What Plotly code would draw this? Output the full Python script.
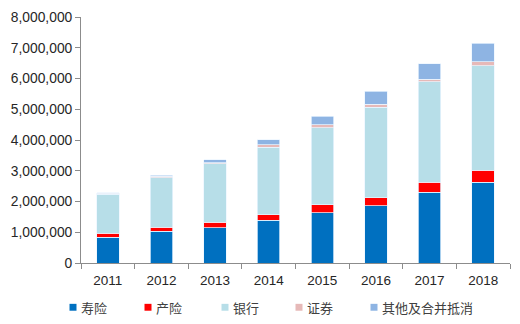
import plotly.graph_objects as go

years = ["2011", "2012", "2013", "2014", "2015", "2016", "2017", "2018"]
names = ["寿险", "产险", "银行", "证券", "其他及合并抵消"]
colors = ["#0070C0", "#FF0000", "#B7DEE8", "#E6B9B8", "#8EB4E3"]

life = [830000, 1040000, 1150000, 1390000, 1640000, 1860000, 2300000, 2630000]
pc = [130000, 120000, 170000, 180000, 260000, 260000, 330000, 380000]
bank = [1280000, 1610000, 1900000, 2190000, 2500000, 2950000, 3260000, 3410000]
sec = [30000, 50000, 40000, 80000, 90000, 90000, 90000, 120000]
other = [20000, 40000, 100000, 170000, 290000, 420000, 500000, 600000]

series = [life, pc, bank, sec, other]
ytickvals = [0, 1000000, 2000000, 3000000, 4000000, 5000000, 6000000, 7000000, 8000000]

fig = go.Figure()
for nm, col, vals in zip(names, colors, series):
    fig.add_trace(go.Bar(x=years, y=vals, name=nm, marker=dict(color=col, line=dict(color="rgba(235,245,255,0.9)", width=0.8)),
                         showlegend=False))

axis_col = "#8C8C8C"
fig.update_layout(
    barmode="stack",
    bargap=0.58,
    width=520, height=324,
    margin=dict(l=81, r=10, t=13, b=61),
    plot_bgcolor="white", paper_bgcolor="white",
    font=dict(family="Liberation Sans, Arial", size=13, color="#262626"),
    xaxis=dict(type="category", showline=True, linecolor=axis_col, linewidth=1,
               ticks="outside", tickson="boundaries", ticklen=5, tickcolor=axis_col,
               showgrid=False, tickfont=dict(size=13.5), ticklabelstandoff=5),
    yaxis=dict(range=[0, 8000000], tickvals=ytickvals, tickformat=",d", showline=True,
               linecolor=axis_col, linewidth=1, ticks="outside", ticklen=5, tickcolor=axis_col,
               showgrid=False, zeroline=False, tickfont=dict(size=13.8)),
)

# legend drawn at bottom
leg_x = [73, 148, 225, 299, 374]
leg_y = 308
W, H = 520, 324
for nm, col, lx in zip(names, colors, leg_x):
    fig.add_shape(type="rect", xref="paper", yref="paper",
                  x0=(lx - 3.5 - 81) / (W - 91), x1=(lx + 3.5 - 81) / (W - 91),
                  y0=(263 - (leg_y + 3.5)) / 250, y1=(263 - (leg_y - 3.5)) / 250,
                  fillcolor=col, line=dict(width=0))
    fig.add_annotation(xref="paper", yref="paper", x=(lx + 6 - 81) / (W - 91), y=(263 - leg_y) / 250,
                       text=nm, showarrow=False, xanchor="left", yanchor="middle",
                       font=dict(family="Noto Sans CJK SC", size=13, color="#404040"))

fig.write_html("out.html")
